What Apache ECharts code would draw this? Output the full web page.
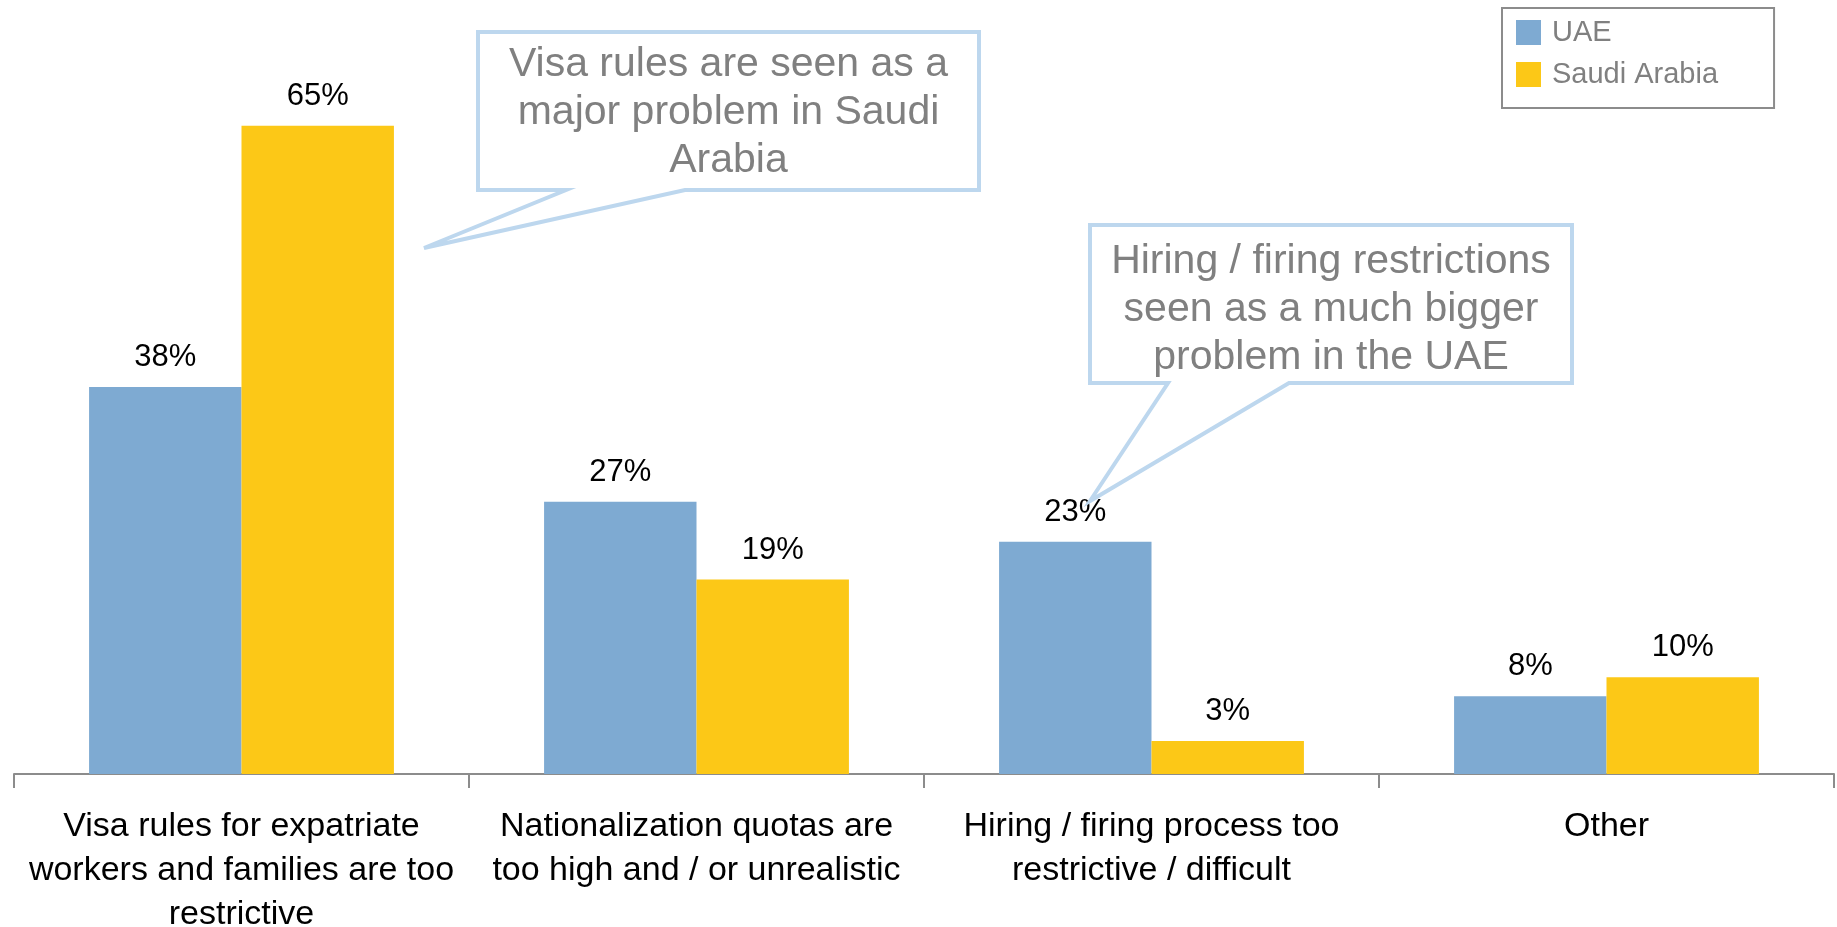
<!DOCTYPE html>
<html>
<head>
<meta charset="utf-8">
<script src="https://cdn.jsdelivr.net/npm/echarts@6/dist/echarts.min.js"></script>
<style>
  html, body { margin: 0; padding: 0; background: #fff; }
  #chart { width: 1837px; height: 927px; }
</style>
</head>
<body>
<div id="chart"></div>
<script>
// categories on the x axis (line breaks as in the original)
var categories = [
  'Visa rules for expatriate\nworkers and families are too\nrestrictive',
  'Nationalization quotas are\ntoo high and / or unrealistic',
  'Hiring / firing process too\nrestrictive / difficult',
  'Other'
];
// bar heights (%)
var uaeValues = [38.8, 27.3, 23.3, 7.8];
var saudiValues = [65.0, 19.5, 3.3, 9.7];
// labels as printed on the bars
var uaeLabels = ['38%', '27%', '23%', '8%'];
var saudiLabels = ['65%', '19%', '3%', '10%'];

var FONT = '"Liberation Sans", Arial, Helvetica, sans-serif';
var calloutLine = '#bdd7ee';
var calloutText = '#808080';

function callout(box, base, tip, lines, cy) {
  // speech bubble: box outline plus a pointer to the tip
  var pts = [
    [box[0], box[1]], [box[2], box[1]], [box[2], box[3]],
    [base[1], box[3]], tip, [base[0], box[3]], [box[0], box[3]]
  ];
  return [
    {
      type: 'polygon',
      z: 100,
      shape: { points: pts },
      style: { fill: '#fff', stroke: calloutLine, lineWidth: 4, lineJoin: 'miter' }
    },
    {
      type: 'text',
      z: 101,
      style: {
        x: (box[0] + box[2]) / 2,
        y: cy,
        text: lines.join('\n'),
        font: '41px ' + FONT,
        lineHeight: 48,
        fill: calloutText,
        align: 'center',
        verticalAlign: 'middle'
      }
    }
  ];
}

var chart = echarts.init(document.getElementById('chart'));

var option = {
  animation: false,
  backgroundColor: '#fff',
  textStyle: { fontFamily: FONT },
  grid: { left: 14, right: 3, top: 76, bottom: 153, containLabel: false, outerBoundsMode: 'none' },
  legend: {
    orient: 'vertical',
    left: 1502,
    top: 8,
    padding: [10, 56, 19, 14],
    itemWidth: 25,
    itemHeight: 25,
    itemGap: 13,
    borderColor: '#8c8c8c',
    borderWidth: 2,
    borderRadius: 0,
    icon: 'rect',
    textStyle: { fontSize: 29, lineHeight: 29, color: '#808080', fontFamily: FONT, padding: [0, 0, 0, 6] },
    data: ['UAE', 'Saudi Arabia']
  },
  xAxis: {
    type: 'category',
    data: categories,
    axisLine: { lineStyle: { color: '#8c8c8c', width: 2 } },
    axisTick: { show: true, length: 14, lineStyle: { color: '#8c8c8c', width: 2 } },
    axisLabel: {
      interval: 0,
      margin: 31,
      color: '#000',
      fontSize: 34,
      lineHeight: 44,
      fontFamily: FONT,
      align: 'center'
    }
  },
  yAxis: {
    type: 'value',
    min: 0,
    max: 70,
    show: false,
    splitLine: { show: false }
  },
  series: [
    {
      name: 'UAE',
      type: 'bar',
      data: uaeValues,
      barGap: '0%',
      barCategoryGap: '33%',
      itemStyle: { color: '#7eaad2' },
      label: {
        show: true,
        position: 'top',
        distance: 14,
        color: '#000',
        fontSize: 31,
        fontFamily: FONT,
        formatter: function (p) { return uaeLabels[p.dataIndex]; }
      }
    },
    {
      name: 'Saudi Arabia',
      type: 'bar',
      data: saudiValues,
      barGap: '0%',
      barCategoryGap: '33%',
      itemStyle: { color: '#fcc817' },
      label: {
        show: true,
        position: 'top',
        distance: 14,
        color: '#000',
        fontSize: 31,
        fontFamily: FONT,
        formatter: function (p) { return saudiLabels[p.dataIndex]; }
      }
    }
  ],
  graphic: [].concat(
    callout([478, 32, 979, 190], [566, 685], [424, 248],
      ['Visa rules are seen as a', 'major problem in Saudi', 'Arabia'], 113),
    callout([1090, 225, 1572, 383], [1168, 1289], [1090, 501],
      ['Hiring / firing restrictions', 'seen as a much bigger', 'problem in the UAE'], 310)
  )
};

chart.setOption(option);
</script>
</body>
</html>
